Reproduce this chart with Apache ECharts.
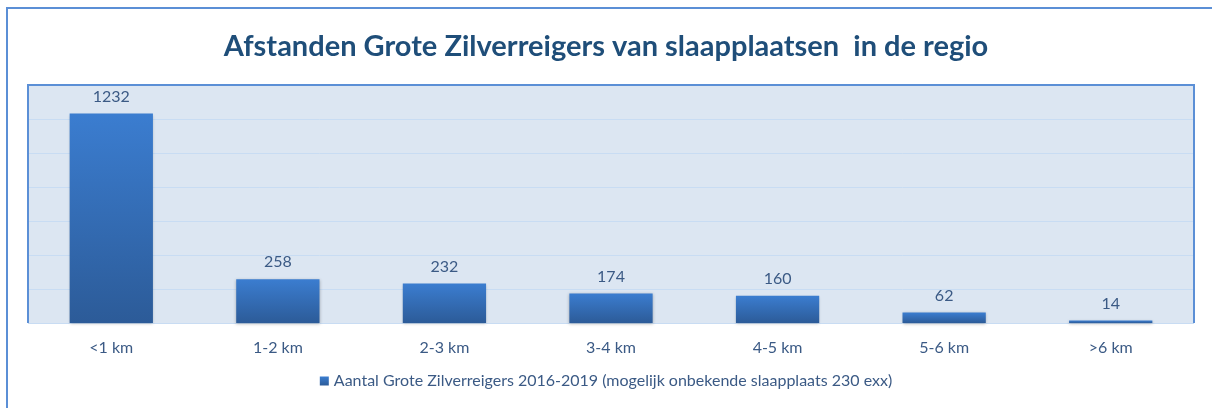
<!DOCTYPE html>
<html>
<head>
<meta charset="utf-8">
<script src="https://cdn.jsdelivr.net/npm/echarts@6/dist/echarts.min.js"></script>
<style>
    html, body { margin: 0; padding: 0; background: #fff; }
    #main { width: 1212px; height: 408px; }
</style>
</head>
<body>
<div id="main"></div>
<script>
    // data
    const categories = ['<1 km', '1-2 km', '2-3 km', '3-4 km', '4-5 km', '5-6 km', '>6 km'];
    const counts = [1232, 258, 232, 174, 160, 62, 14];
    const seriesName = 'Aantal Grote Zilverreigers 2016-2019 (mogelijk onbekende slaapplaats 230 exx)';
    const titleText = 'Afstanden Grote Zilverreigers van slaapplaatsen  in de regio';

    const textColor = '#3b5a85';
    const borderBlue = '#5b8fd6';
    const font = 'Lato';

    // plot box (pixels)
    const plot = { left: 28, top: 85, right: 1194, bottom: 323 };

    const myChart = echarts.init(document.getElementById('main'));

    const option = {
        animation: false,
        backgroundColor: '#ffffff',
        title: {
            text: titleText,
            left: 'center',
            top: 27,
            textStyle: { color: '#1f4e79', fontSize: 29, fontWeight: 'bold', fontFamily: font }
        },
        legend: {
            bottom: 14,
            left: 'center',
            itemWidth: 9,
            itemHeight: 9,
            itemGap: 5,
            icon: 'rect',
            textStyle: { color: textColor, fontSize: 16, fontFamily: font }
        },
        grid: {
            left: plot.left,
            top: plot.top,
            right: 1212 - plot.right,
            bottom: 408 - plot.bottom,
            show: true,
            backgroundColor: '#dce6f2',
            borderWidth: 0
        },
        xAxis: {
            type: 'category',
            data: categories,
            axisLine: { show: false },
            axisTick: { show: false },
            axisLabel: { color: textColor, fontSize: 16, fontFamily: font, margin: 17 }
        },
        yAxis: {
            type: 'value',
            min: 0,
            max: 1400,
            interval: 200,
            axisLabel: { show: false },
            axisLine: { show: false },
            axisTick: { show: false },
            splitLine: { lineStyle: { color: '#c8dcf3', width: 1 } }
        },
        graphic: [
            // outer chart border
            {
                type: 'rect',
                shape: { x: 7, y: 8, width: 1400, height: 600 },
                style: { fill: null, stroke: borderBlue, lineWidth: 2 },
                silent: true
            },
            // plot area border (left, top, right)
            {
                type: 'polyline',
                shape: { points: [[plot.left, plot.bottom], [plot.left, plot.top], [plot.right, plot.top], [plot.right, plot.bottom]] },
                style: { fill: null, stroke: borderBlue, lineWidth: 2 },
                silent: true,
                z: 10
            }
        ],
        series: [{
            name: seriesName,
            type: 'bar',
            data: counts,
            barWidth: '50%',
            itemStyle: {
                color: new echarts.graphic.LinearGradient(0, 0, 0, 1, [
                    { offset: 0, color: '#3b7dd0' },
                    { offset: 1, color: '#2c5b98' }
                ]),
                shadowColor: 'rgba(0,0,0,0.25)',
                shadowBlur: 3,
                shadowOffsetY: 1
            },
            label: {
                show: true,
                position: 'top',
                distance: 9,
                color: textColor,
                fontSize: 16,
                fontFamily: font
            }
        }]
    };

    myChart.setOption(option);
</script>
</body>
</html>
